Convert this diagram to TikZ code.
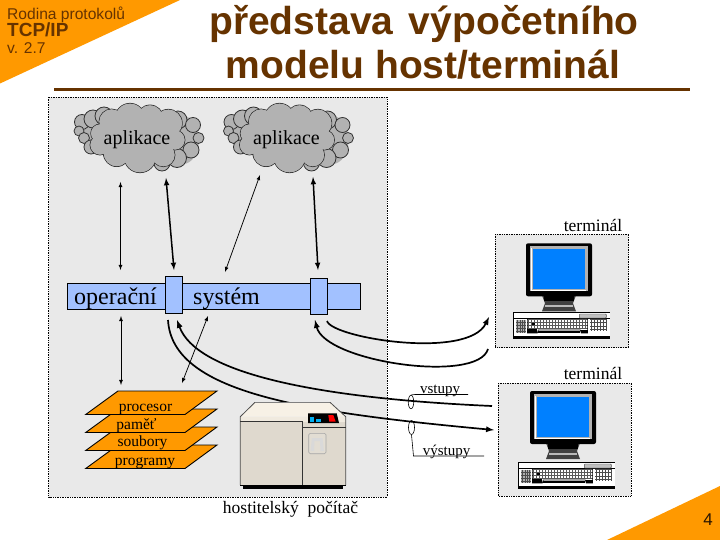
\documentclass[tikz,border=0pt]{standalone}
\usepackage{fontspec}
\setmainfont{Liberation Serif}
\newfontfamily\headfont{Liberation Sans}
\usetikzlibrary{shapes.geometric}
\definecolor{brownhead}{HTML}{663300}
\definecolor{orangehead}{HTML}{FF9900}
\definecolor{panelgray}{HTML}{E9E9E9}
\definecolor{cloudgray}{HTML}{B2B2B2}
\definecolor{barblue}{HTML}{A2C1FF}
\definecolor{screenblue}{HTML}{0080FF}
\definecolor{caselight}{HTML}{F7F1E6}
\definecolor{casedark}{HTML}{DFD9CE}
\newcommand{\fsize}[1]{\fontsize{#1}{#1}\selectfont}
% one terminal: screen at #1, keyboard at #2
\newcommand{\termpic}[2]{
  \begin{scope}[shift={(#1)}]
    \fill[black!75] (16,52) -- (50,52) -- (47,60) -- (50,68) -- (16,68) -- (19,60) -- cycle;
    \fill[black] (18,52) rectangle (48,58);
    \fill[gray!55] (19,62) rectangle (47,64);
    \fill[black,rounded corners=2pt] (0,0) rectangle (66,53);
    \fill[gray!60] (3.5,3) rectangle (61.5,48);
    \fill[screenblue] (7,6) rectangle (59,45.5);
    \draw[white,line width=0.7pt] (5.3,4.5) -- (5.3,47) -- (60,47);
  \end{scope}
  \begin{scope}[shift={(#2)}]
    \fill[black] (0,0) rectangle (97,27);
    \fill[white] (0.6,0.6) rectangle (96.4,24.3);
    \draw[black,line width=0.5pt] (0,6) -- (97,6);
    \draw[black!70,fill=gray!50,line width=0.4pt,rounded corners=0.8pt] (66,2) rectangle (93,6);
    \fill[gray!60] (2.7,7.7) rectangle (12.3,21);
    \fill[white] (14,6.7) rectangle (74.3,20);
    \fill[white] (76.7,6.7) rectangle (93.3,19.3);
    \foreach \u in {15,18,...,74} \draw[gray!70!black,line width=0.35pt] (\u,6.7) -- (\u,17);
    \foreach \u in {78,81,...,93} \draw[black!70,line width=0.35pt] (\u,6.7) -- (\u,19.3);
    \foreach \u in {4,6.4,...,12} \draw[black!70,line width=0.35pt] (\u,7.7) -- (\u,21);
    \foreach \v in {7,10,13,16} \draw[gray!70!black,line width=0.35pt] (14,\v) -- (74.3,\v);
    \foreach \v in {7,10.5,14,17.5} \draw[black!70,line width=0.35pt] (76.7,\v) -- (93.3,\v);
    \foreach \v in {10,13,16,19} \draw[black!70,line width=0.35pt] (2.7,\v) -- (12.3,\v);
    \draw[black,line width=0.6pt] (14,6.7) -- (14,21) -- (24,21) -- (25,18) -- (67,18) -- (68,21) -- (74.3,21) -- (74.3,6.7);
    \fill[black] (14,17) rectangle (24,21);
    \fill[black] (25,19) rectangle (67,21);
    \fill[black] (68,18) rectangle (74.3,21);
    \fill[black] (19,11) rectangle (22,13);
  \end{scope}
}
% one group of puffs with its text
\newcommand{\appcloud}[2]{
  \begin{scope}[shift={(#2,0)}]
    \fill[cloudgray] (92,130) ellipse (12 and 15);
    \fill[cloudgray] (183,140) ellipse (16 and 24);
    \foreach \x/\y/\r in {82/122/7.5,79/131/5,84/138/5.5,93/119/9,91/147/7,104/116/9,
      178/120/9,193/125/7.5,198.5/138/5.5,191/150/8,177/158/9.5,162/163/8}
      \draw[puffline] (\x,\y) circle (\r);
    \foreach \x/\y/\r in {111.7/121.7/12.7,130/118.3/15,150/118.3/13.3,168.3/123.3/14,175/140/10,163.3/155/11.7,
      140/156.7/16,116.7/153.3/13.3,100/145/10,100/133.3/9.3}
      \draw[puffline] (\x,\y) circle (\r);
    \foreach \x/\y/\r in {111.7/121.7/12.7,130/118.3/15,150/118.3/13.3,168.3/123.3/14,175/140/10,163.3/155/11.7,
      140/156.7/16,116.7/153.3/13.3,100/145/10,100/133.3/9.3}
      \fill[cloudgray] (\x,\y) circle (\r-0.4);
    \fill[cloudgray] (137,138) ellipse (40 and 26);
    \draw (137,144.5) node[anchor=base,font=\fsize{20}] (#1) {aplikace};
  \end{scope}
}
\begin{document}
\begin{tikzpicture}[x=1pt,y=-1pt]
  \tikzstyle{every node}=[inner sep=0pt]
  \tikzstyle{panelbox}=[fill=panelgray,draw=black,line width=0.7pt,densely dotted]
  \tikzstyle{puffline}=[draw=black!80,fill=cloudgray,line width=0.8pt]
  \tikzstyle{thinlink}=[latex-latex,line width=0.75pt]
  \tikzstyle{thicklink}=[latex-latex,line width=1.5pt]
  \tikzstyle{curvelink}=[line width=1.7pt]
  \tikzstyle{barbox}=[draw,fill=barblue,line width=0.8pt]
  \tikzstyle{layerbox}=[draw=black,fill=orangehead,line width=0.9pt,line join=miter]
  \tikzstyle{layertext}=[anchor=base,font=\fsize{15.5}]
  \tikzstyle{textlabel}=[anchor=base,font=\fsize{17.5}]
  \tikzstyle{smalllabel}=[anchor=base,font=\fsize{15}]
  \useasboundingbox (0,0) rectangle (720,540);
  \fill[white] (0,0) rectangle (720,540);
  % corners and title
  \fill[orangehead] (0,0) -- (180,0) -- (0,83.5) -- cycle;
  \fill[orangehead] (720,486) -- (607,540) -- (720,540) -- cycle;
  \draw (7,19.5) node[anchor=base west,text=brownhead,font=\headfont\fsize{15.6}] (family) {Rodina protokolů};
  \draw (7,36.5) node[anchor=base west,text=brownhead,font=\headfont\bfseries\fsize{19}] (tcpip) {TCP/IP};
  \draw (7,54) node[anchor=base west,text=brownhead,font=\headfont\fsize{15.6}] (version) {v. 2.7};
  \draw (708,525) node[anchor=base,text=brownhead!40!black,font=\headfont\fsize{17}] (pageno) {4};
  \draw (424,35) node[anchor=base,text=brownhead,font=\headfont\bfseries\fsize{39}] (title1) {představa\hspace{0.12em} výpočetního};
  \draw (423,78.5) node[anchor=base,text=brownhead,font=\headfont\bfseries\fsize{39}] (title2) {modelu host/terminál};
  \draw[brownhead,line width=3pt] (54,90) -- (690,90);
  % panels
  \draw[panelbox] (48.5,97) rectangle (387,497);
  \draw[panelbox] (495,234) rectangle (628.5,347.5);
  \draw[panelbox] (498,383) rectangle (631,496);
  \appcloud{appa}{0}
  \appcloud{appb}{149.5}
  % operating system bar
  \draw (214,296.25) node[barbox,minimum width=293pt,minimum height=26.5pt] (bar) {};
  \draw (174,294.75) node[barbox,minimum width=17pt,minimum height=36.5pt] (porta) {};
  \draw (319,296.5) node[barbox,minimum width=17pt,minimum height=36pt] (portb) {};
  \draw (74,304) node[anchor=base west,font=\fsize{24}] (ostext1) {operační};
  \draw (193,304) node[anchor=base west,font=\fsize{24}] (ostext2) {systém};
  % free ends
  \coordinate (a1) at (120.5,182); \coordinate (b1) at (120.5,270);
  \coordinate (a2) at (166,178);   \coordinate (b2) at (174,270);
  \coordinate (a3) at (260,175);   \coordinate (b3) at (225,272);
  \coordinate (a4) at (313,177);   \coordinate (b4) at (318,270);
  \coordinate (a5) at (121,316);   \coordinate (b5) at (121,385);
  \coordinate (a6) at (208,316);   \coordinate (b6) at (182,383);
  \coordinate (c1) at (168,320);   \coordinate (d1) at (494,430);
  \coordinate (c2) at (177,320);   \coordinate (d2) at (492,406);
  \coordinate (c3) at (327,321);   \coordinate (d3) at (489,317);
  \coordinate (c4) at (315,320);   \coordinate (d4) at (488,349);
  \draw[thinlink] (a1) -- (b1);
  \draw[thicklink] (a2) -- (b2);
  \draw[thinlink] (a3) -- (b3);
  \draw[thicklink] (a4) -- (b4);
  \draw[thinlink] (a5) -- (b5);
  \draw[thinlink] (a6) -- (b6);
  \draw[curvelink,-latex] (c1) .. controls (172,392) and (300,412) .. (d1);
  \draw[curvelink,latex-] (c2) .. controls (196,372) and (310,398) .. (d2);
  \draw[curvelink,-latex] (c3) .. controls (332,338) and (468,360) .. (d3);
  \draw[curvelink,latex-] (c4) .. controls (325,362) and (478,384) .. (d4);
  % layers, lowest first
  \draw[layerbox] (85.7,468.5) -- (118,445) -- (217,445) -- (185,468.5) -- cycle;
  \draw[layerbox] (85.7,450.5) -- (118,427) -- (217,427) -- (185,450.5) -- cycle;
  \draw[layerbox] (85.7,432.5) -- (118,409) -- (217,409) -- (185,432.5) -- cycle;
  \draw[layerbox] (85.7,414.5) -- (118,391) -- (217,391) -- (185,414.5) -- cycle;
  \draw (145.5,411.5) node[layertext] (procesor) {procesor};
  \draw (136.5,429.5) node[layertext] (pamet) {paměť};
  \draw (142.5,446.8) node[layertext] (soubory) {soubory};
  \draw (145,465) node[layertext] (programy) {programy};
  % host computer
  \fill[black] (243,483) rectangle (343,489);
  \fill[casedark] (240.3,416.7) rectangle (345.7,485);
  \fill[caselight] (240.3,416.7) -- (255,402.3) -- (330,402.3) -- (345.7,416.7) -- cycle;
  \fill[caselight!70!casedark] (240.3,416.7) rectangle (345.7,421.5);
  \draw[black!70,line width=0.8pt] (240.3,485) -- (240.3,416.7) -- (255,402.3);
  \draw[black!50,line width=0.8pt] (255,402.3) -- (330,402.3);
  \draw[black!70,line width=0.8pt] (330,402.3) -- (345.7,416.7) -- (345.7,485);
  \draw[black!80,line width=1.3pt] (240.3,421.7) -- (302.5,421.7) -- (302.5,485);
  \draw[black!80,line width=1.3pt] (302.5,427.7) -- (345.7,427.7);
  \draw[black,line width=0.8pt] (240.3,485) -- (345.7,485);
  \fill[black] (308,413.3) -- (336.7,413.3) -- (339,423) -- (308,423) -- cycle;
  \fill[cyan] (310,416.7) rectangle (314,421.7);
  \fill[cyan] (316,419) rectangle (320.7,421.7);
  \fill[red] (328.3,415) -- (333.3,415) -- (335.7,421.7) -- (329.3,421.7) -- cycle;
  \draw[gray!70,line width=0.6pt,rounded corners=1.5pt,fill=casedark!90!white] (308.7,433.3) rectangle (326,453.7);
  \fill[gray!30] (312,438) -- (322.5,438) -- (324,451) -- (320.5,451) -- (320,441) -- (314.5,441) -- (314,451) -- (310.5,451) -- cycle;
  \draw (290.5,513) node[textlabel] (host) {hostitelský\hspace{0.25em} počítač};
  % terminals
  \termpic{526,243.3}{513.3,312}
  \termpic{530,391}{518.3,462}
  \draw (593,231) node[textlabel] (term1) {terminál};
  \draw (593,379) node[textlabel] (term2) {terminál};
  % signal labels
  \draw (411,402) node[draw,ellipse,minimum width=5.5pt,minimum height=13.5pt,line width=0.6pt] (ringa) {};
  \draw (411.5,427.5) node[draw,ellipse,minimum width=6pt,minimum height=14pt,line width=0.6pt] (ringb) {};
  \coordinate (ka) at (415,394.5); \coordinate (la) at (468,394.5);
  \coordinate (kb) at (413.5,456); \coordinate (lb) at (484,456);
  \draw[line width=0.6pt] (ringa.north) -- (ka) -- (la);
  \draw[line width=0.6pt] (ringb.south) -- (kb) -- (lb);
  \draw (440,393) node[smalllabel] (vstupy) {vstupy};
  \draw (446.5,455) node[smalllabel] (vystupy) {výstupy};
\end{tikzpicture}
\end{document}
